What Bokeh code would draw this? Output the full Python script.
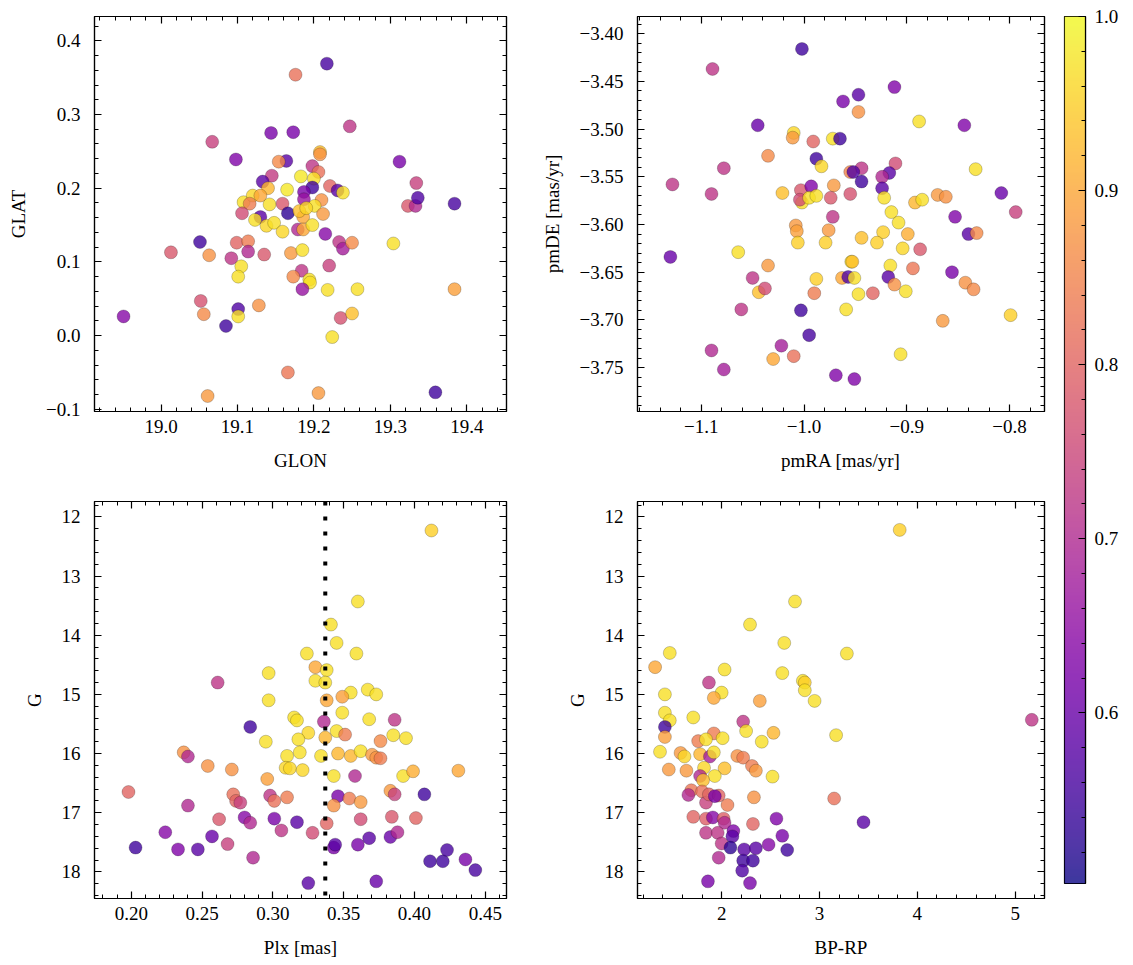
import numpy as np
from bokeh.plotting import figure
from bokeh.layouts import row, column
from bokeh.models import (LinearColorMapper, SingleIntervalTicker, LinearAxis, Span,
                          Range1d, ColumnDataSource, CustomJSTickFormatter)
from bokeh.palettes import Plasma256
from bokeh.transform import transform
from bokeh.embed import file_html
from bokeh.resources import INLINE

# ---------------- data ----------------
glon = [19.217, 19.176, 19.247, 19.067, 19.144, 19.173, 19.098, 19.164, 19.154, 19.208, 19.208, 19.198,
        19.206, 19.312, 19.334, 19.183, 19.200, 19.145, 19.133, 19.140, 19.165, 19.198, 19.187, 19.187,
        19.221, 19.231, 19.238, 19.210, 19.108, 19.120, 19.130, 19.116, 19.142, 19.159, 19.201, 19.323,
        19.333, 19.336, 19.384,
        19.106, 19.130, 19.166, 19.186, 19.212, 19.181, 19.190, 19.123, 19.138, 19.148, 19.159, 19.179,
        19.186, 19.198, 19.215, 19.051, 19.013, 19.063, 19.099, 19.114, 19.114, 19.092, 19.135, 19.105,
        19.101, 19.170, 19.185, 19.233, 19.238, 19.250, 19.304, 19.220, 19.184, 19.173, 19.194, 19.195,
        19.185, 19.218, 19.257, 19.384, 19.052, 19.056, 19.101, 19.101, 19.128, 18.951, 19.085, 19.235,
        19.250, 19.224, 19.166, 19.061, 19.206, 19.359]
glat = [0.369, 0.354, 0.284, 0.263, 0.275, 0.276, 0.239, 0.237, 0.236, 0.249, 0.246, 0.230,
        0.222, 0.236, 0.207, 0.216, 0.213, 0.217, 0.209, 0.200, 0.198, 0.201, 0.195, 0.185,
        0.203, 0.197, 0.194, 0.184, 0.181, 0.190, 0.190, 0.179, 0.178, 0.179, 0.176, 0.176,
        0.176, 0.187, 0.179,
        0.166, 0.161, 0.166, 0.161, 0.165, 0.169, 0.173, 0.157, 0.149, 0.153, 0.141, 0.144,
        0.144, 0.150, 0.138, 0.127, 0.113, 0.109, 0.126, 0.128, 0.114, 0.105, 0.110, 0.094,
        0.080, 0.112, 0.116, 0.127, 0.118, 0.126, 0.125, 0.095, 0.088, 0.080, 0.076, 0.072,
        0.063, 0.062, 0.063, 0.063, 0.047, 0.029, 0.036, 0.026, 0.041, 0.026, 0.013, 0.024,
        0.030, -0.002, -0.050, -0.082, -0.078, -0.077]
prob_pos = [0.56, 0.82, 0.72, 0.74, 0.62, 0.62, 0.63, 0.58, 0.86, 0.93, 0.87, 0.72,
            0.82, 0.62, 0.74, 0.98, 0.97, 0.73, 0.58, 0.92, 0.98, 0.55, 0.62, 0.66,
            0.80, 0.58, 0.97, 0.87, 0.97, 0.96, 0.90, 0.84, 0.97, 0.78, 0.97, 0.78,
            0.70, 0.57, 0.56,
            0.76, 0.58, 0.53, 0.90, 0.88, 0.93, 0.96, 0.97, 0.96, 0.97, 0.96, 0.70,
            0.90, 0.97, 0.64, 0.55, 0.78, 0.87, 0.80, 0.84, 0.70, 0.72, 0.78, 0.97,
            0.97, 0.88, 0.97, 0.72, 0.68, 0.86, 0.97, 0.74, 0.72, 0.86, 0.97, 0.97,
            0.66, 0.97, 0.97, 0.89, 0.77, 0.86, 0.57, 0.97, 0.87, 0.64, 0.55, 0.77,
            0.93, 0.97, 0.83, 0.88, 0.88, 0.55]

pmra = [-1.002, -1.089, -0.912, -0.962, -0.947, -0.947, -1.045, -0.888, -0.844, -1.010, -1.011, -0.991,
        -0.972, -0.965, -1.035, -0.988, -0.983, -1.078, -0.911, -0.944, -0.955, -0.952, -0.917, -0.924,
        -0.944, -0.833, -1.128, -1.090, -1.021, -1.003, -0.993, -1.002, -1.004, -0.995, -0.988, -0.971,
        -0.974, -0.955, -0.924, -0.922, -0.915, -0.892, -0.885, -0.870, -0.862, -0.808, -0.794,
        -0.972, -0.853, -0.908, -1.008, -1.007, -1.006, -0.976, -0.979, -0.944, -0.923, -0.929, -0.899,
        -0.904, -0.887, -0.840, -0.832, -1.130, -1.064, -1.035, -1.050, -1.044, -1.038, -1.061, -0.988,
        -0.990, -1.003, -0.995, -1.022, -1.010, -1.030, -1.090, -1.078, -0.954, -0.953, -0.963, -0.957,
        -0.951, -0.947, -0.933, -0.959, -0.916, -0.918, -0.912, -0.901, -0.894, -0.856, -0.843, -0.835,
        -0.865, -0.799, -0.906, -0.969, -0.951]
pmde = [-3.416, -3.437, -3.456, -3.471, -3.464, -3.482, -3.496, -3.492, -3.496, -3.504, -3.509, -3.513,
        -3.510, -3.510, -3.528, -3.531, -3.539, -3.541, -3.536, -3.541, -3.545, -3.545, -3.546, -3.550,
        -3.555, -3.542, -3.558, -3.568, -3.567, -3.564, -3.560, -3.577, -3.574, -3.572, -3.570, -3.559,
        -3.572, -3.568, -3.562, -3.572, -3.587, -3.577, -3.574, -3.569, -3.571, -3.567, -3.587,
        -3.592, -3.592, -3.598, -3.601, -3.607, -3.619, -3.606, -3.619, -3.614, -3.608, -3.619, -3.610,
        -3.625, -3.626, -3.610, -3.609, -3.634, -3.629, -3.643, -3.656, -3.671, -3.667, -3.689, -3.657,
        -3.672, -3.690, -3.716, -3.727, -3.738, -3.741, -3.732, -3.752, -3.639, -3.639, -3.656, -3.655,
        -3.656, -3.673, -3.672, -3.689, -3.643, -3.655, -3.663, -3.670, -3.646, -3.650, -3.661, -3.668,
        -3.701, -3.695, -3.736, -3.758, -3.762]
prob_pm = [0.55, 0.72, 0.63, 0.62, 0.58, 0.87, 0.60, 0.97, 0.63, 0.96, 0.88, 0.80,
           0.97, 0.55, 0.86, 0.55, 0.96, 0.72, 0.76, 0.72, 0.85, 0.57, 0.58, 0.70,
           0.55, 0.97, 0.72, 0.72, 0.93, 0.78, 0.63, 0.97, 0.76, 0.97, 0.97, 0.88,
           0.78, 0.77, 0.58, 0.97, 0.97, 0.92, 0.97, 0.88, 0.87, 0.60, 0.74,
           0.72, 0.63, 0.97, 0.88, 0.89, 0.95, 0.88, 0.95, 0.93, 0.95, 0.95, 0.91,
           0.96, 0.78, 0.58, 0.86, 0.60, 0.97, 0.88, 0.72, 0.93, 0.76, 0.72, 0.95,
           0.84, 0.55, 0.56, 0.68, 0.82, 0.90, 0.70, 0.68, 0.97, 0.93, 0.90, 0.57,
           0.97, 0.97, 0.80, 0.97, 0.97, 0.58, 0.87, 0.97, 0.83, 0.62, 0.87, 0.86,
           0.88, 0.95, 0.97, 0.63, 0.63]

plx = [0.412, 0.360, 0.341, 0.345, 0.324, 0.359, 0.330, 0.338, 0.297, 0.330, 0.337, 0.261,
       0.355, 0.367, 0.373, 0.349,
       0.297, 0.338, 0.349, 0.315, 0.317, 0.284, 0.336, 0.368, 0.386, 0.325, 0.318, 0.345,
       0.351, 0.337, 0.295, 0.376, 0.385, 0.394, 0.237, 0.240, 0.254, 0.271, 0.310, 0.319,
       0.309, 0.312, 0.321, 0.334, 0.346, 0.355, 0.362, 0.370, 0.373, 0.376, 0.343, 0.358,
       0.392, 0.399, 0.431, 0.296, 0.198, 0.272, 0.274, 0.277, 0.298, 0.301, 0.310, 0.240,
       0.346, 0.343, 0.354, 0.362, 0.383, 0.386, 0.407, 0.262, 0.280, 0.284, 0.301, 0.306,
       0.317, 0.328, 0.338, 0.362, 0.384, 0.401, 0.224, 0.203, 0.233, 0.247, 0.257, 0.268,
       0.286, 0.343, 0.344, 0.360, 0.368, 0.383, 0.388, 0.411, 0.420, 0.423, 0.436, 0.443,
       0.325, 0.373]
g_plx = [12.23, 13.43, 13.82, 14.13, 14.31, 14.31, 14.54, 14.59, 14.64, 14.77, 14.80, 14.80,
         14.97, 14.92, 15.00, 15.04,
         15.10, 15.10, 15.31, 15.39, 15.44, 15.55, 15.46, 15.42, 15.43, 15.65, 15.76, 15.62,
         15.68, 15.73, 15.80, 15.79, 15.69, 15.74, 15.98, 16.05, 16.21, 16.27, 16.04, 15.98,
         16.24, 16.25, 16.28, 16.04, 16.00, 16.04, 15.96, 16.02, 16.07, 16.08, 16.38, 16.38,
         16.38, 16.30, 16.29, 16.43, 16.65, 16.69, 16.80, 16.83, 16.71, 16.80, 16.74, 16.88,
         16.72, 16.88, 16.76, 16.82, 16.63, 16.69, 16.69, 17.11, 17.08, 17.17, 17.10, 17.30,
         17.16, 17.34, 17.18, 17.11, 17.07, 17.09, 17.33, 17.59, 17.62, 17.62, 17.40, 17.53,
         17.76, 17.59, 17.54, 17.54, 17.43, 17.41, 17.33, 17.82, 17.82, 17.63, 17.79, 17.97,
         18.19, 18.16]
prob_plx = [0.95, 0.97, 0.97, 0.97, 0.97, 0.97, 0.90, 0.97, 0.97, 0.97, 0.97, 0.72,
            0.97, 0.97, 0.97, 0.89,
            0.97, 0.90, 0.97, 0.97, 0.97, 0.55, 0.70, 0.97, 0.72, 0.96, 0.97, 0.97,
            0.84, 0.92, 0.97, 0.86, 0.97, 0.97, 0.87, 0.70, 0.87, 0.87, 0.97, 0.97,
            0.96, 0.96, 0.96, 0.97, 0.92, 0.92, 0.97, 0.88, 0.87, 0.84, 0.97, 0.70,
            0.97, 0.91, 0.90, 0.89, 0.80, 0.82, 0.80, 0.74, 0.72, 0.82, 0.84, 0.70,
            0.62, 0.87, 0.84, 0.88, 0.88, 0.74, 0.55, 0.78, 0.64, 0.70, 0.62, 0.72,
            0.58, 0.76, 0.80, 0.76, 0.78, 0.80, 0.64, 0.55, 0.63, 0.58, 0.60, 0.74,
            0.70, 0.62, 0.58, 0.62, 0.58, 0.60, 0.70, 0.55, 0.55, 0.56, 0.62, 0.56,
            0.58, 0.60]
plx_ref = 0.337

bprp = [3.82, 2.75, 2.29, 2.64, 1.47, 3.28, 1.32, 2.03, 2.62, 2.83, 2.85, 1.87, 2.85, 1.42, 2.00,
        1.92, 2.39, 2.95, 1.42, 1.47, 1.42, 1.71, 2.22, 2.25, 2.53, 3.17, 1.42, 1.92, 2.01, 1.76,
        1.84, 2.41, 1.37, 1.58, 1.62, 1.78, 1.88, 1.92, 2.16, 2.22, 2.31, 2.35, 1.46, 1.64, 1.82,
        2.03, 1.93, 1.78, 1.81, 2.52, 1.69, 1.66, 1.80, 1.84, 1.87, 1.97, 1.93, 2.06, 2.33, 3.15,
        1.71, 1.84, 1.91, 2.02, 2.03, 2.32, 2.56, 3.45, 1.84, 1.96, 2.00, 2.12, 2.11, 2.09, 2.23,
        2.35, 2.48, 2.62, 2.67, 2.22, 2.32, 2.21, 1.97, 1.86, 2.29, 5.17]
g_col = [12.22, 13.43, 13.82, 14.13, 14.30, 14.31, 14.54, 14.58, 14.64, 14.77, 14.80, 14.80, 14.93, 15.00, 14.97,
         15.06, 15.11, 15.11, 15.31, 15.44, 15.55, 15.39, 15.46, 15.62, 15.65, 15.69, 15.72, 15.66, 15.74, 15.79,
         15.76, 15.80, 15.97, 15.99, 16.05, 16.01, 16.05, 15.98, 16.04, 16.07, 16.21, 16.29, 16.27, 16.29, 16.24,
         16.25, 16.38, 16.38, 16.45, 16.39, 16.62, 16.70, 16.64, 16.83, 16.69, 16.71, 16.72, 16.87, 16.74, 16.76,
         17.07, 17.10, 17.08, 17.10, 17.17, 17.19, 17.10, 17.16, 17.34, 17.34, 17.52, 17.31, 17.40, 17.59, 17.62,
         17.60, 17.54, 17.39, 17.63, 17.81, 17.81, 17.98, 17.76, 18.16, 18.19, 15.43]
prob_col = [0.95, 0.97, 0.97, 0.97, 0.97, 0.97, 0.90, 0.97, 0.97, 0.97, 0.95, 0.72, 0.97, 0.97, 0.97,
            0.90, 0.89, 0.97, 0.97, 0.97, 0.55, 0.97, 0.72, 0.97, 0.92, 0.97, 0.89, 0.84, 0.97, 0.84,
            0.97, 0.97, 0.97, 0.88, 0.96, 0.92, 0.68, 0.97, 0.87, 0.84, 0.84, 0.88, 0.88, 0.88, 0.96,
            0.93, 0.97, 0.70, 0.93, 0.97, 0.83, 0.70, 0.82, 0.74, 0.80, 0.80, 0.62, 0.84, 0.87, 0.82,
            0.80, 0.79, 0.64, 0.79, 0.70, 0.80, 0.63, 0.58, 0.72, 0.72, 0.72, 0.63, 0.58, 0.53, 0.58,
            0.58, 0.64, 0.62, 0.55, 0.55, 0.55, 0.57, 0.70, 0.62, 0.62, 0.72]

cb_low, cb_high = 0.502, 1.0

# ---------------- styling helpers ----------------
FONT = "Liberation Serif"
FS = "19px"
mapper = LinearColorMapper(palette=Plasma256, low=cb_low, high=cb_high)


def fmt(dec):
    return CustomJSTickFormatter(code=f"""
        let v = Math.abs(tick) < 1e-9 ? 0 : tick;
        return v.toFixed({dec}).replace('-', '\\u2212');
    """)


def style_axis(ax, interval, dec, labels=True):
    ax.ticker = SingleIntervalTicker(interval=interval, num_minor_ticks=5)
    ax.major_tick_in = 7
    ax.major_tick_out = 0
    ax.minor_tick_in = 4
    ax.minor_tick_out = 0
    ax.major_tick_line_color = "black"
    ax.minor_tick_line_color = "black"
    ax.major_tick_line_width = 1.2
    ax.minor_tick_line_width = 1
    ax.axis_line_color = "black"
    ax.axis_line_width = 1.2
    ax.major_label_text_font = FONT
    ax.major_label_text_font_size = FS
    ax.major_label_text_color = "black"
    ax.axis_label_text_font = FONT
    ax.axis_label_text_font_size = FS
    ax.axis_label_text_font_style = "normal"
    ax.axis_label_text_color = "black"
    if labels:
        ax.formatter = fmt(dec)
    else:
        ax.formatter = CustomJSTickFormatter(code="return '';")
        ax.major_label_text_font_size = "0px"
        ax.major_label_text_color = None
        ax.major_label_standoff = 0


def panel(x, y, c, xr, yr, xint, xdec, yint, ydec, xlabel, ylabel, w, h, bl, br, bt, bb):
    p = figure(width=w, height=h, x_range=Range1d(*xr), y_range=Range1d(*yr),
               output_backend="svg", toolbar_location=None,
               min_border_left=bl, min_border_right=br, min_border_top=bt, min_border_bottom=bb)
    p.grid.visible = False
    p.outline_line_color = "black"
    p.outline_line_width = 1.2
    p.background_fill_color = "white"
    p.border_fill_color = "white"
    style_axis(p.xaxis[0], xint, xdec)
    style_axis(p.yaxis[0], yint, ydec)
    p.xaxis[0].axis_label = xlabel
    p.yaxis[0].axis_label = ylabel
    p.xaxis[0].major_label_standoff = 8
    p.yaxis[0].major_label_standoff = 14
    p.xaxis[0].axis_label_standoff = 14
    p.yaxis[0].axis_label_standoff = 14
    top = LinearAxis()
    style_axis(top, xint, xdec, labels=False)
    right = LinearAxis()
    style_axis(right, yint, ydec, labels=False)
    p.add_layout(top, "above")
    p.add_layout(right, "right")
    src = ColumnDataSource(dict(x=x, y=y, c=c))
    p.scatter(x="x", y="y", source=src, size=13, marker="circle",
              fill_color=transform("c", mapper), fill_alpha=0.8,
              line_color="black", line_alpha=0.35, line_width=0.6)
    return p


p1 = panel(glon, glat, prob_pos, (18.913, 19.452), (-0.103, 0.433), 0.1, 1, 0.1, 1,
           "GLON", "GLAT", 516, 473, 94, 10, 16, 62)
p2 = panel(pmra, pmde, prob_pm, (-1.162, -0.766), (-3.796, -3.382), 0.1, 1, 0.05, 2,
           "pmRA [mas/yr]", "pmDE [mas/yr]", 538, 473, 121, 10, 16, 62)
p3 = panel(plx, g_plx, prob_plx, (0.174, 0.465), (18.45, 11.74), 0.05, 2, 1, 0,
           "Plx [mas]", "G", 516, 487, 94, 10, 28, 62)
p4 = panel(bprp, g_col, prob_col, (1.14, 5.30), (18.45, 11.74), 1, 0, 1, 0,
           "BP-RP", "G", 538, 487, 121, 10, 28, 62)

p3.add_layout(Span(location=plx_ref, dimension="height", line_color="black",
                   line_width=4, line_dash="4 11"))

# ---------------- colour bar ----------------
cb = figure(width=79, height=960, x_range=Range1d(0, 1), y_range=Range1d(cb_low, cb_high),
            output_backend="svg", toolbar_location=None, x_axis_type=None,
            y_axis_location="right",
            min_border_left=10, min_border_right=48, min_border_top=16, min_border_bottom=77)
cb.grid.visible = False
cb.outline_line_color = "black"
cb.outline_line_width = 1.2
grad = np.linspace(cb_low, cb_high, 256).reshape(-1, 1)
cb.image(image=[grad], x=0, y=cb_low, dw=1, dh=cb_high - cb_low, color_mapper=mapper,
         global_alpha=0.8)
style_axis(cb.yaxis[0], 0.1, 1)
cb.yaxis[0].major_label_standoff = 9

layout = row(column(row(p1, p2), row(p3, p4)), cb)

open("out.html", "w").write(file_html(layout, INLINE))
